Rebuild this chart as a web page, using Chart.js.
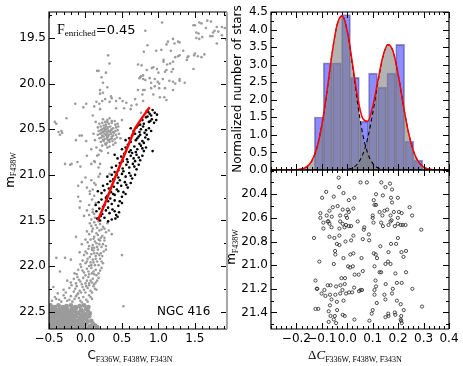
<!DOCTYPE html>
<html>
<head>
<meta charset="utf-8">
<script src="https://cdn.jsdelivr.net/npm/chart.js@4.4.0/dist/chart.umd.min.js"></script>
<style>
  body { margin: 0; background: #fff; }
  #wrap { position: relative; width: 463px; height: 366px; }
  canvas { position: absolute; left: 0; top: 0; }
</style>
</head>
<body>
<div id="wrap">
  <canvas id="cmd" width="463" height="366"></canvas>
  <canvas id="hist" width="463" height="366"></canvas>
  <canvas id="delta" width="463" height="366"></canvas>
</div>
<script>
// ---- left panel: CMD, [C, m_F438W] ----
const greyStars = [
  [1.05,19.33],[1.50,19.36],[1.59,19.34],[1.65,19.39],[1.72,19.32],[1.80,19.38],[1.87,19.38],[1.91,19.39],[1.82,19.43],[1.75,19.44],
  [1.55,19.45],[1.52,19.44],[1.52,19.50],[1.56,19.51],[1.60,19.49],[1.71,19.48],[1.74,19.48],[1.80,19.56],[0.82,19.42],[0.85,19.58],
  [1.13,19.54],[1.22,19.56],[1.27,19.54],[1.04,19.63],[0.97,19.64],[0.80,19.65],[1.17,19.64],[1.34,19.64],[1.49,19.69],[1.54,19.70],
  [1.59,19.71],[1.63,19.68],[1.41,19.70],[1.39,19.74],[1.27,19.70],[1.23,19.71],[1.20,19.76],[1.07,19.74],[1.16,19.78],[1.12,19.79],
  [1.48,19.84],[0.77,19.80],[0.72,19.79],[0.91,19.83],[0.98,19.84],[1.09,19.87],[1.18,19.87],[0.76,19.92],[0.74,19.94],[0.79,19.95],
  [0.88,19.94],[0.95,19.95],[0.99,19.98],[1.06,19.95],[1.15,19.97],[1.29,19.97],[1.36,19.99],[1.23,20.00],[0.90,20.05],[0.95,20.03],
  [1.01,20.05],[1.09,20.05],[1.20,20.07],[0.81,20.07],[0.78,20.12],[0.93,20.12],[1.02,20.15],[1.08,20.15],[1.11,20.18],[0.70,20.23],
  [1.48,19.36],[1.56,19.33],[1.67,19.31],[1.77,19.42],[1.11,19.57],[1.20,19.51],[1.29,19.55],[1.07,19.76],[1.29,19.69],[1.40,19.71],
  [1.50,19.67],[0.84,19.85],[0.93,19.82],[1.00,19.88],[1.11,19.85],[1.20,19.84],[0.82,19.96],[0.90,19.99],[1.01,20.00],[1.20,19.98],
  [1.29,19.95],[1.87,19.47],[1.93,19.52],
  [0.31,19.69],[0.33,19.78],[0.16,19.86],[0.28,19.88],[0.22,19.93],[0.20,20.07],[0.24,20.10],[-0.03,20.26],[0.15,20.20],[0.23,20.19],
  [0.33,20.20],[0.42,20.19],[0.51,20.19],[0.47,20.16],[0.35,20.14],[0.20,20.28],[0.42,20.27],[0.53,20.27],[0.62,20.28],[0.76,20.32],
  [0.75,19.93],[0.79,19.91],[0.72,20.07],[0.79,20.07],[0.79,20.19],[0.68,20.17],[-0.42,20.42],[-0.37,20.53],[-0.32,20.54],[-0.26,20.38],
  [-0.08,20.57],[0.01,20.63],[-0.28,20.88],[-0.21,20.89],[-0.07,20.91],[0.13,20.86],[0.20,20.88],[0.16,20.79],[0.20,20.73],[0.31,20.76],
  [0.33,20.99],[0.20,20.99],[0.18,19.86],[0.24,19.99],[0.30,20.04],[0.20,20.11],[0.27,20.17],[0.36,20.16],[0.56,20.21],[0.63,20.24],
  [0.19,20.22],[0.12,20.25],[0.01,20.22],[-0.14,20.22],[-0.40,20.44],[-0.33,20.52],[-0.35,20.56],[-0.13,20.62],[-0.05,20.57],[-0.19,20.88],
  [-0.11,20.86],[0.08,20.88],[0.18,20.92],[0.12,20.85],[0.02,20.79],[0.08,20.72],[0.18,20.78],[0.22,20.74],[0.10,20.35],[0.14,20.42],
  [0.11,20.55],[0.13,20.62],[0.50,20.40],[0.48,20.60],[0.15,20.70],
  [0.24,20.39],[0.30,20.40],[0.36,20.41],[0.27,20.42],[0.33,20.38],[0.40,20.41],
  [0.19,20.44],[0.23,20.43],[0.28,20.45],[0.32,20.44],[0.36,20.43],[0.41,20.45],[0.25,20.46],[0.30,20.42],[0.44,20.44],
  [0.17,20.48],[0.21,20.47],[0.25,20.49],[0.28,20.47],[0.31,20.48],[0.34,20.47],[0.38,20.49],[0.42,20.48],[0.23,20.50],[0.27,20.49],
  [0.30,20.50],[0.36,20.50],[0.45,20.47],
  [0.18,20.52],[0.21,20.51],[0.24,20.53],[0.27,20.51],[0.29,20.53],[0.32,20.52],[0.35,20.51],[0.38,20.53],[0.41,20.52],[0.44,20.51],
  [0.22,20.54],[0.26,20.52],[0.30,20.54],[0.34,20.53],[0.39,20.54],
  [0.17,20.56],[0.20,20.55],[0.23,20.57],[0.26,20.55],[0.29,20.57],[0.32,20.56],[0.35,20.55],[0.38,20.57],[0.42,20.56],[0.25,20.58],
  [0.28,20.56],[0.31,20.58],[0.36,20.58],[0.46,20.55],
  [0.19,20.60],[0.22,20.59],[0.26,20.61],[0.29,20.60],[0.32,20.62],[0.36,20.60],[0.40,20.61],[0.24,20.62],[0.30,20.59],[0.34,20.61],
  [0.43,20.59],[0.21,20.64],[0.25,20.63],[0.29,20.65],[0.33,20.64],[0.37,20.63],[0.27,20.66],[0.31,20.62],[0.41,20.65],
  [0.23,20.68],[0.28,20.67],[0.33,20.69],[0.38,20.67],[0.30,20.70],
  [0.00,21.03],[0.08,21.06],[0.12,21.09],[-0.05,21.08],[0.18,21.02],[0.02,21.14],[0.06,21.18],[-0.10,21.12],[0.10,21.16],[0.14,21.11],
  [-0.10,21.24],[0.06,21.21],[0.09,21.27],[0.12,21.23],[-0.07,21.29],[-0.08,21.36],[0.05,21.33],[0.10,21.38],[0.14,21.31],[0.02,21.39],
  [0.05,21.44],[0.10,21.41],[0.13,21.47],[-0.02,21.45],[0.08,21.49],[0.12,21.43],
  [0.08,21.56],[0.12,21.52],[0.16,21.58],[0.20,21.54],[0.24,21.57],[0.30,21.53],[0.10,21.59],[0.18,21.51],[0.22,21.60],[0.14,21.55],
  [0.05,21.65],[0.09,21.62],[0.12,21.68],[0.15,21.64],[0.19,21.61],[0.23,21.67],[0.28,21.63],[0.11,21.70],[0.17,21.66],[0.21,21.69],
  [-0.13,21.68],[0.36,21.65],
  [0.03,21.74],[0.07,21.71],[0.10,21.77],[0.13,21.73],[0.16,21.79],[0.20,21.72],[0.24,21.76],[0.28,21.78],[0.09,21.80],[0.15,21.75],
  [0.18,21.71],[0.22,21.79],[-0.05,21.76],
  [0.00,21.84],[0.04,21.81],[0.08,21.87],[0.11,21.83],[0.14,21.89],[0.17,21.82],[0.21,21.86],[0.25,21.84],[0.06,21.90],[0.12,21.86],
  [0.19,21.88],[-0.28,21.91],[0.50,21.88],[-0.08,21.85],
  [-0.04,21.94],[0.00,21.97],[0.03,21.92],[0.07,21.96],[0.10,21.93],[0.13,21.99],[0.16,21.95],[0.20,21.92],[0.24,21.97],[0.05,22.00],
  [0.11,21.96],[0.18,21.99],[-0.20,21.93],[-0.40,21.91],
  [-0.10,22.04],[-0.06,22.01],[-0.02,22.07],[0.02,22.03],[0.05,22.09],[0.08,22.02],[0.11,22.06],[0.14,22.04],[0.18,22.08],[0.22,22.02],
  [0.00,22.10],[0.09,22.08],[0.15,22.10],[-0.35,22.06],[-0.15,22.08],
  [-0.16,22.14],[-0.11,22.12],[-0.07,22.17],[-0.03,22.13],[0.00,22.19],[0.04,22.12],[0.07,22.16],[0.10,22.14],[0.14,22.18],[0.18,22.13],
  [-0.05,22.20],[0.02,22.16],[0.12,22.20],[-0.25,22.16],
  [-0.30,22.26],[-0.22,22.24],[-0.16,22.28],[-0.12,22.22],[-0.08,22.27],[-0.04,22.23],[0.00,22.29],[0.03,22.24],[0.07,22.27],[0.11,22.22],
  [0.15,22.26],[-0.44,22.23],[-0.10,22.30],[0.05,22.21],[-0.02,22.26],
  [-0.42,22.34],[-0.36,22.37],[-0.30,22.32],[-0.25,22.38],[-0.20,22.33],[-0.15,22.36],[-0.11,22.31],[-0.07,22.38],[-0.03,22.34],[0.01,22.37],
  [0.05,22.32],[0.09,22.36],[-0.18,22.39],[-0.05,22.40],[0.52,22.44],
  [0.06,21.53],[0.26,21.59],[0.02,21.62],[0.26,21.69],[0.32,21.61],[0.00,21.71],[0.05,21.78],[0.12,21.80],[0.26,21.72],[0.19,21.76],
  [-0.02,21.88],[0.02,21.86],[0.09,21.82],[0.16,21.86],[0.23,21.89],[0.28,21.82],[-0.07,21.98],[0.02,21.95],[0.08,21.99],[0.14,21.92],
  [0.22,21.95],[-0.12,22.09],[-0.04,22.05],[0.04,22.06],[0.12,22.09],[0.20,22.05],[-0.20,22.18],[-0.13,22.19],[-0.09,22.15],[0.05,22.19],
  [0.09,22.18],[0.16,22.16],[-0.27,22.29],[-0.19,22.21],[-0.14,22.25],[-0.06,22.29],[0.01,22.22],[0.09,22.29],[0.13,22.25],[-0.38,22.30],
  [-0.33,22.39],[-0.28,22.35],[-0.22,22.37],[-0.13,22.33],[-0.09,22.35],[0.03,22.39],[0.07,22.34],[-0.46,22.38],[-0.40,22.36],
];
// dense main-sequence clump in the lower-left corner
const turnoffStars = [
  [-0.48,22.43],[-0.42,22.45],[-0.37,22.43],[-0.31,22.45],[-0.26,22.44],[-0.20,22.43],[-0.14,22.45],[-0.08,22.44],[-0.02,22.43],[0.04,22.45],
  [-0.50,22.48],[-0.45,22.46],[-0.40,22.48],[-0.35,22.47],[-0.30,22.46],[-0.25,22.48],[-0.19,22.47],[-0.13,22.46],[-0.06,22.48],[0.01,22.47],
  [-0.48,22.51],[-0.44,22.49],[-0.39,22.50],[-0.34,22.51],[-0.29,22.49],[-0.24,22.51],[-0.20,22.50],[-0.15,22.49],[-0.10,22.51],[-0.04,22.50],[0.03,22.49],
  [-0.50,22.53],[-0.46,22.54],[-0.41,22.52],[-0.37,22.54],[-0.32,22.53],[-0.28,22.52],[-0.23,22.54],[-0.18,22.53],[-0.12,22.52],[-0.06,22.54],[0.00,22.53],[0.06,22.52],
  [-0.48,22.56],[-0.44,22.57],[-0.40,22.55],[-0.35,22.57],[-0.31,22.56],[-0.26,22.55],[-0.22,22.57],[-0.17,22.56],[-0.13,22.55],[-0.08,22.57],[-0.02,22.56],[0.05,22.55],
  [-0.50,22.59],[-0.46,22.60],[-0.42,22.58],[-0.38,22.60],[-0.33,22.59],[-0.29,22.58],[-0.25,22.60],[-0.20,22.59],[-0.16,22.58],[-0.11,22.60],[-0.05,22.59],[0.01,22.58],[0.08,22.60],
  [-0.48,22.62],[-0.44,22.63],[-0.40,22.61],[-0.36,22.63],[-0.32,22.62],[-0.28,22.61],[-0.23,22.63],[-0.19,22.62],[-0.14,22.61],[-0.09,22.63],[-0.03,22.62],[0.03,22.61],[0.10,22.63],
  [-0.50,22.65],[-0.46,22.66],[-0.42,22.64],[-0.38,22.66],[-0.34,22.65],[-0.30,22.64],[-0.26,22.66],[-0.21,22.65],[-0.17,22.64],[-0.12,22.66],[-0.06,22.65],[0.00,22.64],[0.06,22.66],[0.13,22.65],
  [-0.48,22.68],[-0.44,22.67],[-0.40,22.69],[-0.36,22.68],[-0.32,22.67],[-0.28,22.69],[-0.24,22.68],[-0.20,22.67],[-0.15,22.69],[-0.10,22.68],[-0.04,22.67],[0.02,22.69],[0.09,22.68],[0.16,22.67],
];
const selectedStars = [
  [0.84,20.30],[0.88,20.33],[0.92,20.29],[0.95,20.32],[0.90,20.35],[0.86,20.31],[0.98,20.34],
  [0.78,20.40],[0.83,20.37],[0.87,20.42],[0.91,20.39],[0.80,20.44],[0.94,20.43],[0.85,20.36],[0.75,20.45],[0.89,20.41],[0.97,20.40],
  [0.66,20.52],[0.70,20.48],[0.74,20.53],[0.79,20.47],[0.83,20.51],[0.87,20.49],[0.72,20.46],[0.68,20.55],[0.81,20.54],[0.90,20.52],[0.76,20.50],[0.62,20.49],
  [0.60,20.60],[0.64,20.57],[0.69,20.62],[0.73,20.58],[0.78,20.63],[0.82,20.59],[0.86,20.61],[0.62,20.64],[0.75,20.56],[0.80,20.65],[0.71,20.60],[0.84,20.56],[0.55,20.62],
  [0.55,20.70],[0.58,20.67],[0.62,20.73],[0.67,20.69],[0.71,20.72],[0.76,20.68],[0.80,20.74],[0.60,20.75],[0.74,20.66],[0.69,20.75],[0.83,20.70],[0.78,20.71],[0.92,20.74],[0.50,20.72],
  [0.49,20.80],[0.53,20.77],[0.57,20.83],[0.62,20.79],[0.66,20.82],[0.70,20.78],[0.75,20.84],[0.51,20.85],[0.64,20.76],[0.73,20.81],[0.78,20.79],[0.68,20.85],[0.40,20.78],[0.44,20.82],
  [0.42,20.90],[0.47,20.87],[0.51,20.93],[0.56,20.89],[0.60,20.92],[0.65,20.88],[0.70,20.94],[0.45,20.95],[0.58,20.86],[0.67,20.91],[0.73,20.89],[0.36,20.92],
  [0.36,21.00],[0.40,20.97],[0.45,21.03],[0.50,20.99],[0.55,21.02],[0.60,20.98],[0.64,21.04],[0.38,21.05],[0.52,20.96],[0.62,21.01],[0.68,21.00],[0.43,21.00],[0.30,21.02],
  [0.30,21.10],[0.34,21.07],[0.39,21.13],[0.44,21.09],[0.49,21.12],[0.54,21.08],[0.58,21.14],[0.32,21.15],[0.47,21.06],[0.56,21.11],[0.62,21.09],[0.24,21.12],
  [0.22,21.20],[0.26,21.17],[0.30,21.23],[0.35,21.19],[0.40,21.22],[0.45,21.18],[0.50,21.24],[0.55,21.21],[0.28,21.25],[0.43,21.16],[0.52,21.19],[0.38,21.21],[0.17,21.18],
  [0.18,21.30],[0.22,21.27],[0.26,21.33],[0.31,21.29],[0.36,21.32],[0.40,21.28],[0.45,21.34],[0.50,21.31],[0.24,21.35],[0.34,21.26],[0.47,21.29],[0.14,21.33],
  [0.15,21.40],[0.19,21.37],[0.23,21.43],[0.28,21.39],[0.33,21.42],[0.37,21.38],[0.42,21.44],[0.46,21.41],[0.21,21.45],[0.31,21.36],[0.40,21.40],
  [0.16,21.48],[0.20,21.50],[0.26,21.47],[0.31,21.51],[0.36,21.49],[0.41,21.48],[0.44,21.46],
];
const fiducialC = [0.17, 0.30, 0.42, 0.55, 0.68, 0.78, 0.88];
const fiducialMag = [21.50, 21.25, 21.00, 20.75, 20.49, 20.37, 20.26];

// ---- top right: normalised histogram of delta C with two-gaussian fit ----
const binCentres = [-0.112, -0.077, -0.041, -0.005, 0.030, 0.066, 0.101, 0.137, 0.173, 0.208, 0.244, 0.279];
const binHeights = [1.51, 3.05, 3.05, 4.43, 2.64, 1.39, 2.76, 2.36, 2.76, 3.58, 0.82, 0.28];
const curveX = [-0.30,-0.28,-0.26,-0.24,-0.22,-0.20,-0.18,-0.16,-0.14,-0.12,-0.10,-0.08,-0.06,-0.04,-0.02,0.00,0.02,0.04,
  0.06,0.08,0.10,0.12,0.14,0.16,0.18,0.20,0.22,0.24,0.26,0.28,0.30,0.32,0.34,0.36,0.38,0.40];
const gaussFirst = [0,0,0,0.0002,0.001,0.007,0.026,0.088,0.254,0.620,1.281,2.236,3.31,4.14,4.39,3.94,2.99,1.925,
  1.048,0.483,0.189,0.062,0.017,0.004,0.001,0,0,0,0,0,0,0,0,0,0,0];
const gaussSecond = [0,0,0,0,0,0,0,0,0,0,0,0,0,0.001,0.004,0.018,0.060,0.174,
  0.429,0.902,1.618,2.473,3.22,3.57,3.38,2.72,1.869,1.093,0.545,0.232,0.084,0.026,0.007,0.002,0,0];
const gaussSum = [0,0,0,0.0002,0.001,0.007,0.026,0.088,0.254,0.620,1.281,2.236,3.31,4.141,4.394,3.958,3.05,2.099,
  1.477,1.385,1.807,2.535,3.237,3.574,3.381,2.72,1.869,1.093,0.545,0.232,0.084,0.026,0.007,0.002,0,0];

// ---- bottom right: delta C vs magnitude ----
const deltaStars = [
  [-0.034,20.26],[0.052,20.30],[0.077,20.30],[0.134,20.30],[0.168,20.31],[0.150,20.34],[0.176,20.36],[-0.032,20.34],[-0.083,20.38],[-0.015,20.39],
  [0.113,20.40],[-0.099,20.43],[-0.053,20.42],[0.006,20.45],[0.028,20.43],[0.104,20.45],[0.140,20.41],[0.172,20.43],[0.199,20.43],[-0.038,20.50],
  [0.107,20.49],[0.113,20.49],[0.176,20.47],[-0.057,20.51],[-0.070,20.54],[-0.018,20.53],[0.002,20.53],[0.024,20.52],[0.006,20.55],[-0.005,20.58],
  [-0.001,20.60],[-0.106,20.56],[-0.106,20.60],[-0.081,20.58],[-0.061,20.59],[-0.028,20.58],[0.146,20.54],[0.157,20.53],[0.127,20.55],[0.183,20.55],
  [0.203,20.55],[0.214,20.56],[0.245,20.51],[0.255,20.58],[0.100,20.58],[0.100,20.60],[0.138,20.58],[0.170,20.58],[0.199,20.60],[-0.077,20.63],
  [-0.070,20.65],[-0.074,20.63],[-0.094,20.64],[-0.028,20.63],[-0.018,20.65],[-0.005,20.66],[0.006,20.67],[-0.011,20.68],[0.015,20.67],[0.041,20.63],
  [0.067,20.68],[0.065,20.70],[0.103,20.64],[0.133,20.64],[0.140,20.67],[0.170,20.63],[0.174,20.62],[0.187,20.67],[0.199,20.65],[0.210,20.66],
  [0.218,20.66],[0.229,20.66],[0.162,20.66],[-0.094,20.69],[-0.062,20.68],[-0.031,20.69],[0.085,20.74],[0.291,20.70],[-0.131,20.77],[-0.070,20.76],
  [-0.051,20.77],[-0.031,20.75],[0.024,20.75],[0.061,20.78],[0.086,20.79],[0.199,20.77],[0.130,20.84],[-0.041,20.82],[-0.031,20.83],[-0.007,20.80],
  [0.015,20.79],[0.172,20.82],[0.192,20.82],[0.231,20.88],[-0.048,20.88],[-0.047,20.91],[-0.015,20.94],[0.012,20.91],[0.024,20.90],[0.056,20.94],
  [0.104,20.90],[0.112,20.91],[0.117,20.94],[0.162,20.89],[0.213,20.89],[0.221,20.93],[-0.110,20.97],[-0.053,20.99],[0.003,21.01],[0.011,21.02],
  [0.022,21.01],[0.061,21.05],[0.029,21.08],[0.045,21.08],[0.107,21.01],[0.150,20.99],[0.160,20.97],[0.170,20.99],[0.127,21.06],[0.133,21.06],
  [0.231,21.06],[0.189,21.07],[-0.023,21.11],[-0.009,21.11],[-0.125,21.13],[-0.077,21.17],[-0.066,21.17],[-0.027,21.17],[-0.118,21.20],[-0.120,21.20],
  [-0.090,21.21],[-0.044,21.18],[-0.010,21.16],[0.027,21.19],[0.052,21.21],[0.058,21.21],[0.046,21.22],[-0.019,21.21],[0.007,21.23],[0.019,21.23],
  [0.111,21.13],[0.113,21.18],[0.107,21.21],[0.151,21.16],[0.179,21.20],[0.195,21.15],[0.214,21.15],[0.256,21.20],[-0.101,21.24],[-0.086,21.26],
  [-0.068,21.25],[-0.047,21.25],[-0.028,21.24],[-0.005,21.24],[0.107,21.25],[0.146,21.25],[0.176,21.24],[-0.062,21.29],[-0.041,21.31],[-0.068,21.34],
  [-0.073,21.39],[-0.015,21.30],[0.150,21.29],[0.116,21.32],[0.195,21.30],[0.210,21.33],[-0.125,21.37],[-0.114,21.37],[-0.040,21.38],[0.100,21.38],
  [0.096,21.41],[0.187,21.40],[0.222,21.38],[0.294,21.35],[-0.066,21.43],[-0.049,21.43],[-0.053,21.46],[-0.073,21.48],[-0.044,21.49],[-0.018,21.42],
  [-0.010,21.43],[0.028,21.46],[0.087,21.47],[0.150,21.44],[0.161,21.41],[0.162,21.43],[0.189,21.42],[0.212,21.43],[0.210,21.46],[0.212,21.47],
  [0.214,21.49],
];

// ---- tick positions ----
const cmdXTicks = [-0.5, 0.0, 0.5, 1.0, 1.5];
const cmdYTicks = [19.5, 20.0, 20.5, 21.0, 21.5, 22.0, 22.5];
const histYTicks = [0, 0.5, 1, 1.5, 2, 2.5, 3, 3.5, 4, 4.5];
const deltaXTicks = [-0.2, -0.1, 0.0, 0.1, 0.2, 0.3, 0.4];
const deltaYTicks = [20.4, 20.6, 20.8, 21.0, 21.2, 21.4];

const range = (a, b, s) => {
  const out = [];
  for (let v = a; v <= b + 1e-9; v += s) out.push(+v.toFixed(4));
  return out;
};

const FONT = "'DejaVu Sans'";
const SERIF = "'Liberation Serif'";
const tickFont = { family: FONT, size: 12 };
const fmt = (d) => (v) => (v < -1e-9 ? "\u2212" : "") + Math.abs(v).toFixed(d);

// inward ticks on all four sides + spines, like matplotlib
function frameTicks(cfg) {
  return {
    id: "frameTicks",
    afterDraw(chart) {
      const { ctx, chartArea: a, scales } = chart;
      ctx.save();
      ctx.strokeStyle = "#000";
      ctx.lineWidth = 1;
      const mark = (scale, values, len) => {
        values.forEach((v) => {
          if (v < scale.min - 1e-9 || v > scale.max + 1e-9) return;
          const p = Math.round(scale.getPixelForValue(v)) + 0.5;
          ctx.beginPath();
          if (scale.isHorizontal()) {
            ctx.moveTo(p, a.bottom); ctx.lineTo(p, a.bottom - len);
            ctx.moveTo(p, a.top); ctx.lineTo(p, a.top + len);
          } else {
            ctx.moveTo(a.left, p); ctx.lineTo(a.left + len, p);
            ctx.moveTo(a.right, p); ctx.lineTo(a.right - len, p);
          }
          ctx.stroke();
        });
      };
      mark(scales.x, cfg.xMinor, 3);
      mark(scales.x, cfg.xMajor, 6);
      mark(scales.y, cfg.yMinor, 3);
      mark(scales.y, cfg.yMajor, 6);
      ctx.lineWidth = 1.2;
      ctx.beginPath();
      ctx.moveTo(a.right, a.top); ctx.lineTo(a.left, a.top);
      ctx.lineTo(a.left, a.bottom); ctx.lineTo(a.right, a.bottom);
      ctx.stroke();
      ctx.strokeStyle = cfg.rightColor || "#000";
      ctx.lineWidth = cfg.rightColor ? 2 : 1.2;
      ctx.beginPath();
      ctx.moveTo(a.right, a.top); ctx.lineTo(a.right, a.bottom);
      ctx.stroke();
      ctx.restore();
    },
  };
}

// labels with subscripts: parts = [text, font, baseline shift]
function richText(items) {
  return {
    id: "richText",
    afterDraw(chart) {
      const ctx = chart.ctx;
      items.forEach((item) => {
        ctx.save();
        ctx.translate(item.x, item.y);
        if (item.rotate) ctx.rotate(item.rotate);
        ctx.fillStyle = "#000";
        ctx.textBaseline = "alphabetic";
        ctx.textAlign = "left";
        let total = 0;
        item.parts.forEach(([t, f]) => {
          ctx.font = f;
          total += ctx.measureText(t).width;
        });
        let x = item.align === "left" ? 0 : -total / 2;
        item.parts.forEach(([t, f, dy]) => {
          ctx.font = f;
          ctx.fillText(t, x, dy || 0);
          x += ctx.measureText(t).width;
        });
        ctx.restore();
      });
    },
  };
}

const fixedTicks = (values) => (axis) => {
  axis.ticks = values.map((v) => ({ value: v }));
};

Chart.defaults.font.family = FONT;

// left: CMD
new Chart(document.getElementById("cmd"), {
  type: "scatter",
  data: {
    datasets: [
      {
        data: fiducialC.map((c, i) => ({ x: c, y: fiducialMag[i] })),
        showLine: true,
        borderColor: "#ff0000",
        borderWidth: 2.5,
        pointRadius: 0,
        order: 0,
      },
      {
        data: selectedStars.map(([c, m]) => ({ x: c, y: m })),
        pointRadius: 1.3,
        pointBorderWidth: 0,
        backgroundColor: "#000",
        order: 1,
      },
      {
        data: greyStars.map(([c, m]) => ({ x: c, y: m })),
        pointRadius: 1.3,
        pointBorderWidth: 0,
        backgroundColor: "#9b9b9b",
        order: 2,
      },
      {
        data: turnoffStars.map(([c, m]) => ({ x: c, y: m })),
        pointRadius: 2.4,
        pointBorderWidth: 0,
        backgroundColor: "#9b9b9b",
        order: 3,
      },
    ],
  },
  options: {
    responsive: false,
    animation: false,
    events: [],
    devicePixelRatio: 1,
    layout: { padding: { left: 0, right: 236, top: 12, bottom: 0 } },
    plugins: { legend: { display: false }, tooltip: { enabled: false } },
    scales: {
      x: {
        type: "linear",
        min: -0.5,
        max: 1.94,
        offset: false,
        grid: { display: false, drawTicks: false },
        border: { display: false },
        afterBuildTicks: fixedTicks(cmdXTicks),
        afterFit: (s) => { s.height = 37; },
        ticks: { font: tickFont, color: "#000", padding: 3, maxRotation: 0, autoSkip: false, callback: fmt(1) },
      },
      y: {
        type: "linear",
        min: 19.215,
        max: 22.69,
        reverse: true,
        grid: { display: false, drawTicks: false },
        border: { display: false },
        afterBuildTicks: fixedTicks(cmdYTicks),
        afterFit: (s) => { s.width = 49; },
        ticks: { font: tickFont, color: "#000", padding: 3, autoSkip: false, callback: fmt(1) },
      },
    },
  },
  plugins: [
    frameTicks({
      xMajor: cmdXTicks, xMinor: range(-0.5, 1.9, 0.1),
      yMajor: cmdYTicks, yMinor: range(19.25, 22.5, 0.25),
      rightColor: "#a8a8a8",
    }),
    richText([
      { x: 13.5, y: 170, rotate: -Math.PI / 2,
        parts: [["m", "12px " + FONT, 0], ["F438W", "8px " + SERIF, 2.5]] },
      { x: 130, y: 359,
        parts: [["C", "12px " + FONT, 0], ["F336W, F438W, F343N", "8px " + SERIF, 3]] },
      { x: 57, y: 33.5, align: "left",
        parts: [["F", "14px " + SERIF, 0], ["enriched", "9px " + SERIF, 2.5], ["=0.45", "13px " + FONT, 0]] },
      { x: 157, y: 315, align: "left", parts: [["NGC 416", "12px " + FONT, 0]] },
    ]),
  ],
});

// top right: histogram
new Chart(document.getElementById("hist"), {
  type: "line",
  data: {
    datasets: [
      {
        data: curveX.map((x, i) => ({ x, y: gaussSum[i] })),
        borderColor: "#ff0000",
        borderWidth: 1.5,
        pointRadius: 0,
        fill: false,
        cubicInterpolationMode: "monotone",
        order: 0,
      },
      {
        data: curveX.map((x, i) => ({ x, y: gaussFirst[i] })),
        borderColor: "#000",
        borderWidth: 1.1,
        borderDash: [4, 3],
        pointRadius: 0,
        fill: false,
        cubicInterpolationMode: "monotone",
        order: 1,
      },
      {
        data: curveX.map((x, i) => ({ x, y: gaussSecond[i] })),
        borderColor: "#000",
        borderWidth: 1.1,
        borderDash: [4, 3],
        pointRadius: 0,
        fill: false,
        cubicInterpolationMode: "monotone",
        order: 1,
      },
      {
        data: curveX.map((x, i) => ({ x, y: gaussFirst[i] })),
        borderWidth: 0,
        pointRadius: 0,
        fill: "origin",
        backgroundColor: "rgba(128,128,128,0.6)",
        cubicInterpolationMode: "monotone",
        order: 2,
      },
      {
        data: curveX.map((x, i) => ({ x, y: gaussSecond[i] })),
        borderWidth: 0,
        pointRadius: 0,
        fill: "origin",
        backgroundColor: "rgba(128,128,128,0.6)",
        cubicInterpolationMode: "monotone",
        order: 2,
      },
      {
        type: "bar",
        data: binCentres.map((x, i) => ({ x, y: binHeights[i] })),
        backgroundColor: "rgba(0,0,255,0.45)",
        borderColor: "rgba(90,90,140,0.6)",
        borderWidth: 1,
        barPercentage: 1,
        categoryPercentage: 1,
        order: 3,
      },
    ],
  },
  options: {
    responsive: false,
    animation: false,
    events: [],
    devicePixelRatio: 1,
    layout: { padding: { left: 240, right: 14, top: 12, bottom: 196 } },
    plugins: { legend: { display: false }, tooltip: { enabled: false } },
    scales: {
      x: {
        type: "linear",
        min: -0.3,
        max: 0.4,
        offset: false,
        grid: { display: false, drawTicks: false, offset: false },
        border: { display: false },
        ticks: { display: false },
        afterFit: (s) => { s.height = 0; },
      },
      y: {
        type: "linear",
        min: 0,
        max: 4.5,
        grid: { display: false, drawTicks: false },
        border: { display: false },
        afterBuildTicks: fixedTicks(histYTicks),
        afterFit: (s) => { s.width = 31; },
        ticks: { font: tickFont, color: "#000", padding: 3, autoSkip: false, callback: fmt(1) },
      },
    },
  },
  plugins: [
    frameTicks({
      xMajor: deltaXTicks, xMinor: range(-0.3, 0.4, 0.02),
      yMajor: histYTicks, yMinor: range(0, 4.5, 0.25),
    }),
    richText([
      { x: 241, y: 89, rotate: -Math.PI / 2,
        parts: [["Normalized number of stars", "12px " + FONT, 0]] },
    ]),
  ],
});

// bottom right: delta C vs magnitude
new Chart(document.getElementById("delta"), {
  type: "scatter",
  data: {
    datasets: [
      {
        data: deltaStars.map(([d, m]) => ({ x: d, y: m })),
        pointRadius: 1.6,
        pointBorderWidth: 0.8,
        borderColor: "#222",
        backgroundColor: "rgba(255,255,255,0)",
      },
    ],
  },
  options: {
    responsive: false,
    animation: false,
    events: [],
    devicePixelRatio: 1,
    layout: { padding: { left: 240, right: 14, top: 170, bottom: 0 } },
    plugins: { legend: { display: false }, tooltip: { enabled: false } },
    scales: {
      x: {
        type: "linear",
        min: -0.3,
        max: 0.4,
        grid: { display: false, drawTicks: false },
        border: { display: false },
        afterBuildTicks: fixedTicks(deltaXTicks),
        afterFit: (s) => { s.height = 37; },
        ticks: { font: tickFont, color: "#000", padding: 3, maxRotation: 0, autoSkip: false, callback: fmt(1) },
      },
      y: {
        type: "linear",
        min: 20.195,
        max: 21.54,
        reverse: true,
        grid: { display: false, drawTicks: false },
        border: { display: false },
        afterBuildTicks: fixedTicks(deltaYTicks),
        afterFit: (s) => { s.width = 31; },
        ticks: { font: tickFont, color: "#000", padding: 3, autoSkip: false, callback: fmt(1) },
      },
    },
  },
  plugins: [
    frameTicks({
      xMajor: deltaXTicks, xMinor: range(-0.3, 0.4, 0.02),
      yMajor: deltaYTicks, yMinor: range(20.2, 21.5, 0.1),
    }),
    richText([
      { x: 235, y: 247, rotate: -Math.PI / 2,
        parts: [["m", "12px " + FONT, 0], ["F438W", "8px " + SERIF, 2.5]] },
      { x: 355, y: 359,
        parts: [["\u0394", "13px " + SERIF, 0], ["C", "italic 13px " + SERIF, 0], ["F336W, F438W, F343N", "8px " + SERIF, 3]] },
    ]),
  ],
});
</script>
</body>
</html>
